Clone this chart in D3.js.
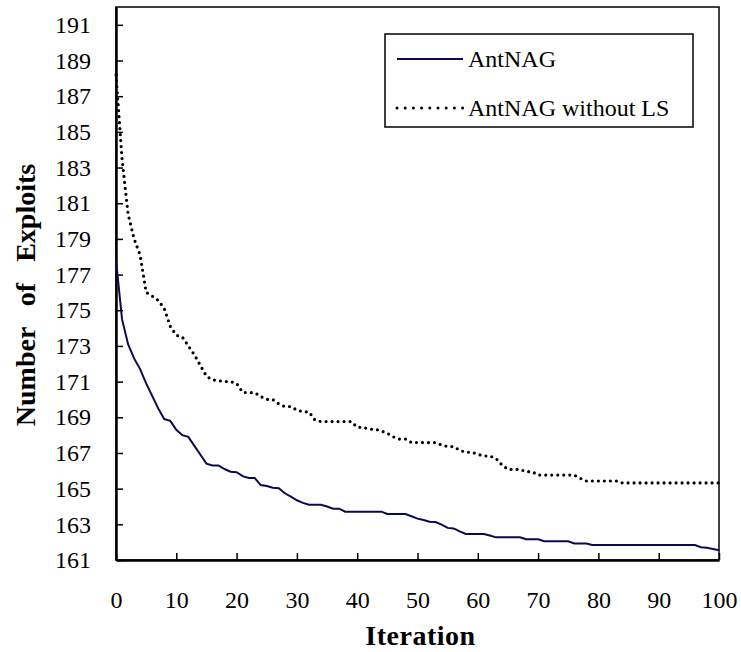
<!DOCTYPE html>
<html>
<head>
<meta charset="utf-8">
<script src="https://cdn.jsdelivr.net/npm/d3@7"></script>
<style>
  body { margin: 0; background: #fff; }
  svg, svg text { font-family: "Times New Roman", "Liberation Serif", Tinos, "DejaVu Serif", serif !important; }
</style>
</head>
<body>
<div id="chart"></div>
<script>
// Data, one value per iteration 0..100
const iterations = d3.range(0, 101);
const antNAG = [
  177.8, 174.5, 173.1, 172.3, 171.7, 170.9, 170.2, 169.5, 168.9, 168.8,
  168.3, 168.0, 167.9, 167.4, 166.9, 166.4, 166.3, 166.3, 166.1, 165.95,
  165.92, 165.7, 165.6, 165.6, 165.2, 165.15, 165.05, 165.02, 164.74, 164.55,
  164.35, 164.2, 164.1, 164.1, 164.1, 164.0, 163.88, 163.88, 163.71, 163.71,
  163.71, 163.71, 163.71, 163.71, 163.71, 163.58, 163.58, 163.58, 163.58, 163.45,
  163.32, 163.24, 163.15, 163.13, 162.98, 162.8, 162.77, 162.6, 162.46, 162.46,
  162.46, 162.46, 162.37, 162.27, 162.27, 162.27, 162.27, 162.27, 162.16, 162.16,
  162.16, 162.05, 162.05, 162.05, 162.05, 162.05, 161.93, 161.93, 161.93, 161.84,
  161.84, 161.84, 161.84, 161.84, 161.84, 161.84, 161.84, 161.84, 161.84, 161.84,
  161.84, 161.84, 161.84, 161.84, 161.84, 161.84, 161.84, 161.72, 161.69, 161.62,
  161.55
];
const antNAGNoLS = [
  188.2, 183.5, 180.4, 179.0, 178.1, 176.0, 175.8, 175.55, 175.1, 174.1,
  173.6, 173.5, 173.0, 172.5, 171.9, 171.3, 171.1, 171.05, 171.0, 171.0,
  170.9, 170.4, 170.38, 170.38, 170.16, 170.0, 170.0, 169.75, 169.6, 169.6,
  169.4, 169.31, 169.3, 168.85, 168.76, 168.76, 168.76, 168.76, 168.76, 168.76,
  168.44, 168.44, 168.33, 168.33, 168.23, 168.1, 167.9, 167.78, 167.78, 167.58,
  167.58, 167.58, 167.58, 167.58, 167.45, 167.36, 167.36, 167.15, 167.04, 167.04,
  166.93, 166.83, 166.83, 166.7, 166.33, 166.08, 166.08, 166.08, 165.95, 165.95,
  165.76, 165.76, 165.76, 165.76, 165.76, 165.76, 165.76, 165.58, 165.43, 165.43,
  165.43, 165.43, 165.43, 165.43, 165.32, 165.32, 165.32, 165.32, 165.32, 165.32,
  165.32, 165.32, 165.32, 165.32, 165.32, 165.32, 165.32, 165.32, 165.32, 165.32,
  165.32
];
const xTicks = [0, 10, 20, 30, 40, 50, 60, 70, 80, 90, 100];
const yTicks = d3.range(161, 192, 2);
const seriesNames = ["AntNAG", "AntNAG without LS"];

const width = 741, height = 652;
const margin = { top: 7, right: 22, bottom: 92, left: 116 };

const x = d3.scaleLinear()
  .domain([0, 100])
  .range([margin.left, width - margin.right]);

const y = d3.scaleLinear()
  .domain([161, 192])
  .range([height - margin.bottom, margin.top]);

const svg = d3.select("#chart")
  .append("svg")
  .attr("width", width)
  .attr("height", height);

// frame (top + right)
svg.append("rect")
  .attr("x", x(0))
  .attr("y", y(192))
  .attr("width", x(100) - x(0))
  .attr("height", y(161) - y(192))
  .attr("fill", "none")
  .attr("stroke", "#000")
  .attr("stroke-width", 1.5);

// Axes
const xAxis = svg.append("g")
  .attr("class", "x-axis")
  .attr("transform", "translate(0," + y(161) + ")")
  .call(d3.axisBottom(x).tickValues(xTicks).tickSizeInner(-7).tickSizeOuter(0).tickPadding(31));

const yAxis = svg.append("g")
  .attr("class", "y-axis")
  .attr("transform", "translate(" + x(0) + ",0)")
  .call(d3.axisLeft(y).tickValues(yTicks).tickSizeInner(-7).tickSizeOuter(0).tickPadding(25));

[xAxis, yAxis].forEach(function(g) {
  g.attr("font-family", null);
  g.select(".domain").attr("stroke", "#000").attr("stroke-width", 2.5);
  g.selectAll(".tick line").attr("stroke", "#000").attr("stroke-width", 1.5);
  g.selectAll(".tick text")
    .attr("fill", "#000")
    .style("font-size", "24px");
});

// Lines
const line = function(values) {
  return d3.line()
    .x(function(d, i) { return x(iterations[i]); })
    .y(function(d) { return y(d); })(values);
};

svg.append("path")
  .attr("d", line(antNAGNoLS))
  .attr("fill", "none")
  .attr("stroke", "#000")
  .attr("stroke-width", 3.2)
  .attr("stroke-linecap", "round")
  .attr("stroke-dasharray", "0,6");

svg.append("path")
  .attr("d", line(antNAG))
  .attr("fill", "none")
  .attr("stroke", "#0a0a50")
  .attr("stroke-width", 2);

// Axis titles
svg.append("text")
  .attr("x", (x(0) + x(100)) / 2 + 3)
  .attr("y", 645)
  .attr("text-anchor", "middle")
  .style("font-size", "28px")
  .style("font-weight", "bold")
  .style("letter-spacing", "0.5px")
  .text("Iteration");

svg.append("text")
  .attr("transform", "translate(35," + 295 + ") rotate(-90)")
  .attr("text-anchor", "middle")
  .style("font-size", "28px")
  .style("font-weight", "bold")
  .style("word-spacing", "14px")
  .text("Number of Exploits");

// Legend
const legend = svg.append("g").attr("class", "legend");
legend.append("rect")
  .attr("x", 385)
  .attr("y", 34)
  .attr("width", 308)
  .attr("height", 93)
  .attr("fill", "#fff")
  .attr("stroke", "#000")
  .attr("stroke-width", 1.5);

const legendRows = [
  { name: seriesNames[0], ly: 59, ty: 67, stroke: "#0a0a50", w: 2, dash: null, cap: "butt" },
  { name: seriesNames[1], ly: 108, ty: 116, stroke: "#000", w: 3, dash: "0,8.2", cap: "round" }
];

legendRows.forEach(function(r) {
  legend.append("line")
    .attr("x1", 397)
    .attr("x2", 463)
    .attr("y1", r.ly)
    .attr("y2", r.ly)
    .attr("stroke", r.stroke)
    .attr("stroke-width", r.w)
    .attr("stroke-linecap", r.cap)
    .attr("stroke-dasharray", r.dash);
  legend.append("text")
    .attr("x", 468)
    .attr("y", r.ty)
    .style("font-size", "24px")
    .text(r.name);
});
</script>
</body>
</html>
